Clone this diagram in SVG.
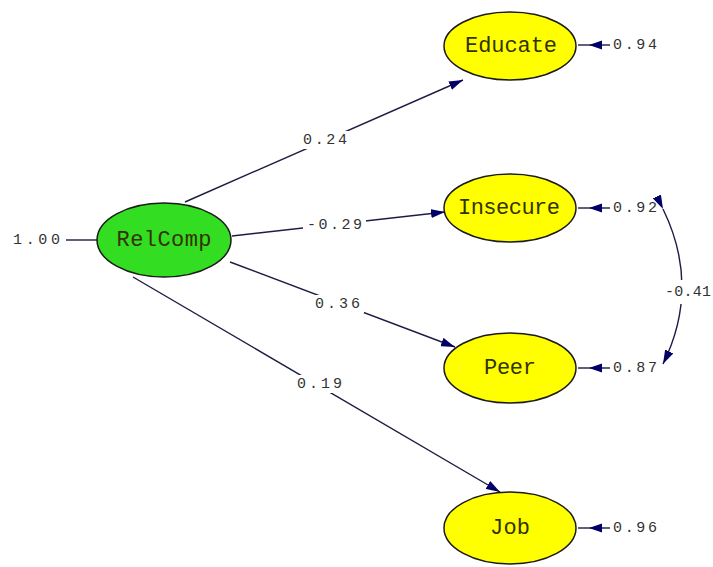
<svg xmlns="http://www.w3.org/2000/svg" width="713" height="567" viewBox="0 0 713 567">
<style>
.bg{fill:#ffffff}
.lat{fill:#33dd22;stroke:#1a1a1a;stroke-width:1.5}
.obs{fill:#ffff00;stroke:#1a1a1a;stroke-width:1.5}
.nl{font-family:"Liberation Mono","Courier New",monospace;font-size:22px;fill:#333300;text-anchor:middle;dominant-baseline:central}
.num{font-family:"Liberation Mono","Courier New",monospace;font-size:15px;fill:#333333;dominant-baseline:central}
.ln{stroke:#1c1c44;stroke-width:1.4;fill:none}
.ah{fill:#000066}
.gap{fill:#ffffff}
</style>
<defs>
<marker id="arr" viewBox="0 0 14 9" refX="14" refY="4.5" markerWidth="14" markerHeight="9" markerUnits="userSpaceOnUse" orient="auto">
<path d="M0,0 L14,4.5 L0,9 Z" fill="#000066"/>
</marker>
</defs>
<rect class="bg" x="0" y="0" width="713" height="567"/>
<g id="connectors">
<line class="ln" x1="66" y1="240" x2="97" y2="240"/>
<line class="ln" x1="185" y1="202" x2="463" y2="80" marker-end="url(#arr)"/>
<line class="ln" x1="232" y1="236" x2="445" y2="212" marker-end="url(#arr)"/>
<line class="ln" x1="230" y1="262" x2="455" y2="347" marker-end="url(#arr)"/>
<line class="ln" x1="133" y1="277" x2="500" y2="492" marker-end="url(#arr)"/>
<path class="ln" d="M 663 209 Q 701 287 663 364" marker-start="url(#arr)" marker-end="url(#arr)"/>
<line class="ln" x1="578" y1="45" x2="610" y2="45"/>
<polygon class="ah" points="589,45 602,40.5 602,49.5"/>
<line class="ln" x1="578" y1="208" x2="610" y2="208"/>
<polygon class="ah" points="589,208 602,203.5 602,212.5"/>
<line class="ln" x1="578" y1="368" x2="610" y2="368"/>
<polygon class="ah" points="589,368 602,363.5 602,372.5"/>
<line class="ln" x1="578" y1="528" x2="610" y2="528"/>
<polygon class="ah" points="589,528 602,523.5 602,532.5"/>
<rect class="gap" x="299" y="131" width="52" height="18"/>
<rect class="gap" x="303" y="216" width="63" height="18"/>
<rect class="gap" x="311" y="295" width="53" height="18"/>
<rect class="gap" x="293" y="375" width="53" height="18"/>
<rect class="gap" x="662" y="280" width="50" height="24"/>
<text class="num" x="13" y="240" textLength="47">1.00</text>
<text class="num" x="303" y="140" textLength="44">0.24</text>
<text class="num" x="307" y="225" textLength="55">-0.29</text>
<text class="num" x="315" y="304" textLength="45">0.36</text>
<text class="num" x="297" y="384" textLength="45">0.19</text>
<text class="num" x="665" y="292" textLength="46">-0.41</text>
<text class="num" x="613" y="45" textLength="44">0.94</text>
<text class="num" x="613" y="208" textLength="44">0.92</text>
<text class="num" x="613" y="368" textLength="44">0.87</text>
<text class="num" x="613" y="528" textLength="44">0.96</text>
</g>
<g id="RelComp">
<ellipse class="lat" cx="164" cy="240" rx="67" ry="37"/>
<text class="nl" x="164" y="240" textLength="95">RelComp</text>
</g>
<g id="Educate">
<ellipse class="obs" cx="510" cy="46" rx="66" ry="34"/>
<text class="nl" x="511" y="46" textLength="92">Educate</text>
</g>
<g id="Insecure">
<ellipse class="obs" cx="510" cy="208" rx="66" ry="34"/>
<text class="nl" x="509" y="208" textLength="102">Insecure</text>
</g>
<g id="Peer">
<ellipse class="obs" cx="510" cy="368" rx="66" ry="35"/>
<text class="nl" x="510" y="368" textLength="52">Peer</text>
</g>
<g id="Job">
<ellipse class="obs" cx="510" cy="528" rx="66" ry="36"/>
<text class="nl" x="510" y="528" textLength="40">Job</text>
</g>
</svg>
